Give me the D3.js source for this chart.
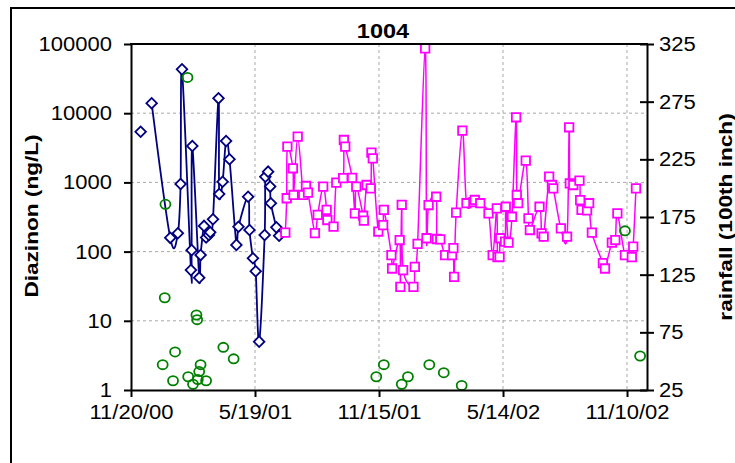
<!DOCTYPE html>
<html>
<head>
<meta charset="utf-8">
<script src="https://cdn.jsdelivr.net/npm/d3@7"></script>
<style>
body { margin: 0; background: #fff; }
svg { display: block; }
text { font-family: "Liberation Sans", Arial, sans-serif; }
</style>
</head>
<body>
<svg id="chart" width="735" height="463"></svg>
<script>
// diazinon, first period (navy diamonds)
var navyDates = ["12/4/00","12/20/00","1/16/01","1/27/01","1/31/01","2/2/01","2/15/01","2/16/01","2/17/01","2/27/01","3/1/01","3/6/01","3/9/01","3/13/01","3/15/01","3/19/01","3/27/01","3/28/01","4/2/01","4/7/01","4/12/01","4/22/01","4/25/01","5/9/01","5/11/01","5/16/01","5/20/01","5/25/01","6/2/01","6/3/01","6/7/01","6/10/01","6/11/01","6/19/01","6/23/01"];
var navyVals = [5400,13900,158,184,950,43000,54,105,3360,42,89,235,160,174,190,293,16400,680,1020,3970,2160,125,229,621,205,80,52,5,174,1210,1430,870,500,224,170];

// diazinon, second period (magenta squares)
var pinkDates = ["7/2/01","7/4/01","7/5/01","7/13/01","7/14/01","7/20/01","7/28/01","8/1/01","8/4/01","8/14/01","8/18/01","8/26/01","8/31/01","9/1/01","9/10/01","9/14/01","9/24/01","9/25/01","9/27/01","10/7/01","10/11/01","10/13/01","10/23/01","10/24/01","10/28/01","11/3/01","11/4/01","11/6/01","11/14/01","11/21/01","11/22/01","12/3/01","12/4/01","12/15/01","12/16/01","12/18/01","12/20/01","1/4/02","1/6/02","1/10/02","1/21/02","1/23/02","1/26/02","2/6/02","2/7/02","2/12/02","2/19/02","3/1/02","3/3/02","3/4/02","3/7/02","3/16/02","3/22/02","4/1/02","4/3/02","4/11/02","4/23/02","4/29/02","5/5/02","5/6/02","5/9/02","5/10/02","5/17/02","5/18/02","5/22/02","5/27/02","6/2/02","6/3/02","6/5/02","6/16/02","6/20/02","6/22/02","7/6/02","7/9/02","7/12/02","7/20/02","7/24/02","7/26/02","8/6/02","8/15/02","8/18/02","8/19/02","8/24/02","9/2/02","9/3/02","9/5/02","9/13/02","9/16/02","9/20/02","10/6/02","10/9/02","10/19/02","10/24/02","10/27/02","11/7/02","11/17/02","11/19/02","11/23/02"];
var pinkVals = [188,590,3280,1600,658,4580,658,887,711,185,340,867,400,286,229,990,1150,4100,3280,1160,357,870,330,280,917,822,2690,2230,195,242,400,89,57,147,31,475,54,31,60,129,86700,156,471,620,152,150,89,89,112,43,365,5590,500,520,557,500,357,89,422,83,84,156,139,445,135,319,8730,658,500,2060,303,205,445,184,164,1210,917,822,217,164,6260,970,917,1060,556,400,394,500,188,68,57,135,147,357,89,83,118,822];

// rainfall (green circles, right axis)
var rainDates = ["1/5/01","1/8/01","1/9/01","1/20/01","1/23/01","2/10/01","2/11/01","2/18/01","2/23/01","2/24/01","2/25/01","2/27/01","3/1/01","3/9/01","4/3/01","4/18/01","11/11/01","11/22/01","12/18/01","12/27/01","1/27/02","2/17/02","3/15/02","11/7/02","11/29/02"];
var rainVals = [47,105,186,33,58,296,36.5,30,90,86,34,41,47,33,62,52,36.5,47,30,36.5,47,40,29,163,54.5];

var xTickLabels = ["11/20/00","5/19/01","11/15/01","5/14/02","11/10/02"];
var yTicks = [1,10,100,1000,10000,100000];
var rTicks = [25,75,125,175,225,275,325];

var parse = d3.timeParse("%m/%d/%y");
var fmt = d3.timeFormat("%-m/%-d/%y");

var svg = d3.select("#chart");
var plotL = 131, plotR = 647, plotT = 44, plotB = 390;

var start = parse(xTickLabels[0]);
var x = d3.scaleTime()
	.domain([start, d3.timeDay.offset(start, 749)])
	.range([plotL, plotR]);
var yL = d3.scaleLog().domain([1, 100000]).range([plotB, plotT]);
var yR = d3.scaleLinear().domain([25, 325]).range([plotB, plotT]);

function stretch(sel, k) {
	sel.each(function() {
		var w = this.getComputedTextLength();
		d3.select(this).attr("textLength", w * k).attr("lengthAdjust", "spacingAndGlyphs");
	});
}

// outer frame
svg.append("rect")
	.attr("x", 11).attr("y", 8)
	.attr("width", 800).attr("height", 500)
	.attr("fill", "none").attr("stroke", "#000").attr("stroke-width", 2);

// grid
var grid = svg.append("g");
grid.selectAll(".hg").data(yTicks.slice(1, -1)).enter().append("line")
	.attr("x1", plotL).attr("x2", plotR)
	.attr("y1", d => yL(d)).attr("y2", d => yL(d));
grid.selectAll(".vg").data(xTickLabels.slice(1)).enter().append("line")
	.attr("x1", d => x(parse(d))).attr("x2", d => x(parse(d)))
	.attr("y1", plotT).attr("y2", plotB);
grid.selectAll("line")
	.attr("stroke", "#a8a8a8").attr("stroke-width", 1).attr("stroke-dasharray", "3,3");

// series
var smooth = d3.curveCardinal.tension(0);

var navy = navyDates.map((d, i) => ({date: parse(d), v: navyVals[i]}));
var pink = pinkDates.map((d, i) => ({date: parse(d), v: pinkVals[i]}));
var rain = rainDates.map((d, i) => ({date: parse(d), v: rainVals[i]}));

var lineL = d3.line().x(d => x(d.date)).y(d => yL(d.v)).curve(smooth);

// first sample stands alone, no line to it
svg.append("path").datum(navy.slice(1))
	.attr("d", lineL).attr("fill", "none")
	.attr("stroke", "#000080").attr("stroke-width", 1.8);
svg.selectAll(".dia").data(navy).enter().append("path")
	.attr("d", d3.symbol(d3.symbolSquare, 56)())
	.attr("transform", d => "translate(" + x(d.date) + "," + yL(d.v) + ") rotate(45)")
	.attr("fill", "#fff").attr("stroke", "#000080").attr("stroke-width", 1.8);

svg.append("path").datum(pink)
	.attr("d", lineL).attr("fill", "none")
	.attr("stroke", "#ff00ff").attr("stroke-width", 1.5);
svg.selectAll(".sq").data(pink).enter().append("path")
	.attr("d", d3.symbol(d3.symbolSquare, 72)())
	.attr("transform", d => "translate(" + x(d.date) + "," + yL(d.v) + ")")
	.attr("fill", "#fff").attr("stroke", "#ff00ff").attr("stroke-width", 1.8);

svg.selectAll(".rain").data(rain).enter().append("ellipse")
	.attr("cx", d => x(d.date)).attr("cy", d => yR(d.v))
	.attr("rx", 5).attr("ry", 4.6)
	.attr("fill", "none").attr("stroke", "#008000").attr("stroke-width", 1.8);

// axes
var gx = svg.append("g").attr("transform", "translate(0," + plotB + ")")
	.call(d3.axisBottom(x).tickValues(xTickLabels.map(parse)).tickFormat(fmt).tickSize(7).tickSizeOuter(0));
gx.selectAll("text").attr("y", 15);

var gl = svg.append("g").attr("transform", "translate(" + plotL + ",0)")
	.call(d3.axisLeft(yL).tickValues(yTicks).tickFormat(d3.format("d")).tickSize(7).tickSizeOuter(0));
gl.selectAll("text").attr("x", -19);

var gr = svg.append("g").attr("transform", "translate(" + plotR + ",0)")
	.call(d3.axisRight(yR).tickValues(rTicks).tickSize(7).tickSizeOuter(0));
gr.selectAll(".tick line").attr("x1", -7);
gr.selectAll("text").attr("x", 12);

svg.append("line")
	.attr("x1", plotL - 1).attr("x2", plotR + 1).attr("y1", plotT).attr("y2", plotT)
	.attr("stroke", "#000").attr("stroke-width", 2);

[gx, gl, gr].forEach(function(g) {
	g.select(".domain").attr("stroke", "#000").attr("stroke-width", 2);
	g.selectAll(".tick line").attr("stroke", "#000").attr("stroke-width", 2);
	g.selectAll("text").attr("font-size", 20).attr("fill", "#000")
		.style("font-family", "'Liberation Sans', Arial, sans-serif");
	stretch(g.selectAll("text"), 1.1);
});

// titles
var title = svg.append("text")
	.attr("x", 383).attr("y", 38)
	.attr("text-anchor", "middle").attr("font-size", 21).attr("font-weight", "bold")
	.text("1004");
stretch(title, 1.12);

var yTitle = svg.append("text")
	.attr("transform", "translate(38,216) rotate(-90)")
	.attr("text-anchor", "middle").attr("font-size", 19).attr("font-weight", "bold")
	.text("Diazinon (ng/L)");
stretch(yTitle, 1.19);

var rTitle = svg.append("text")
	.attr("transform", "translate(732,217) rotate(-90)")
	.attr("text-anchor", "middle").attr("font-size", 19).attr("font-weight", "bold")
	.text("rainfall (100th inch)");
stretch(rTitle, 1.19);
</script>
</body>
</html>
